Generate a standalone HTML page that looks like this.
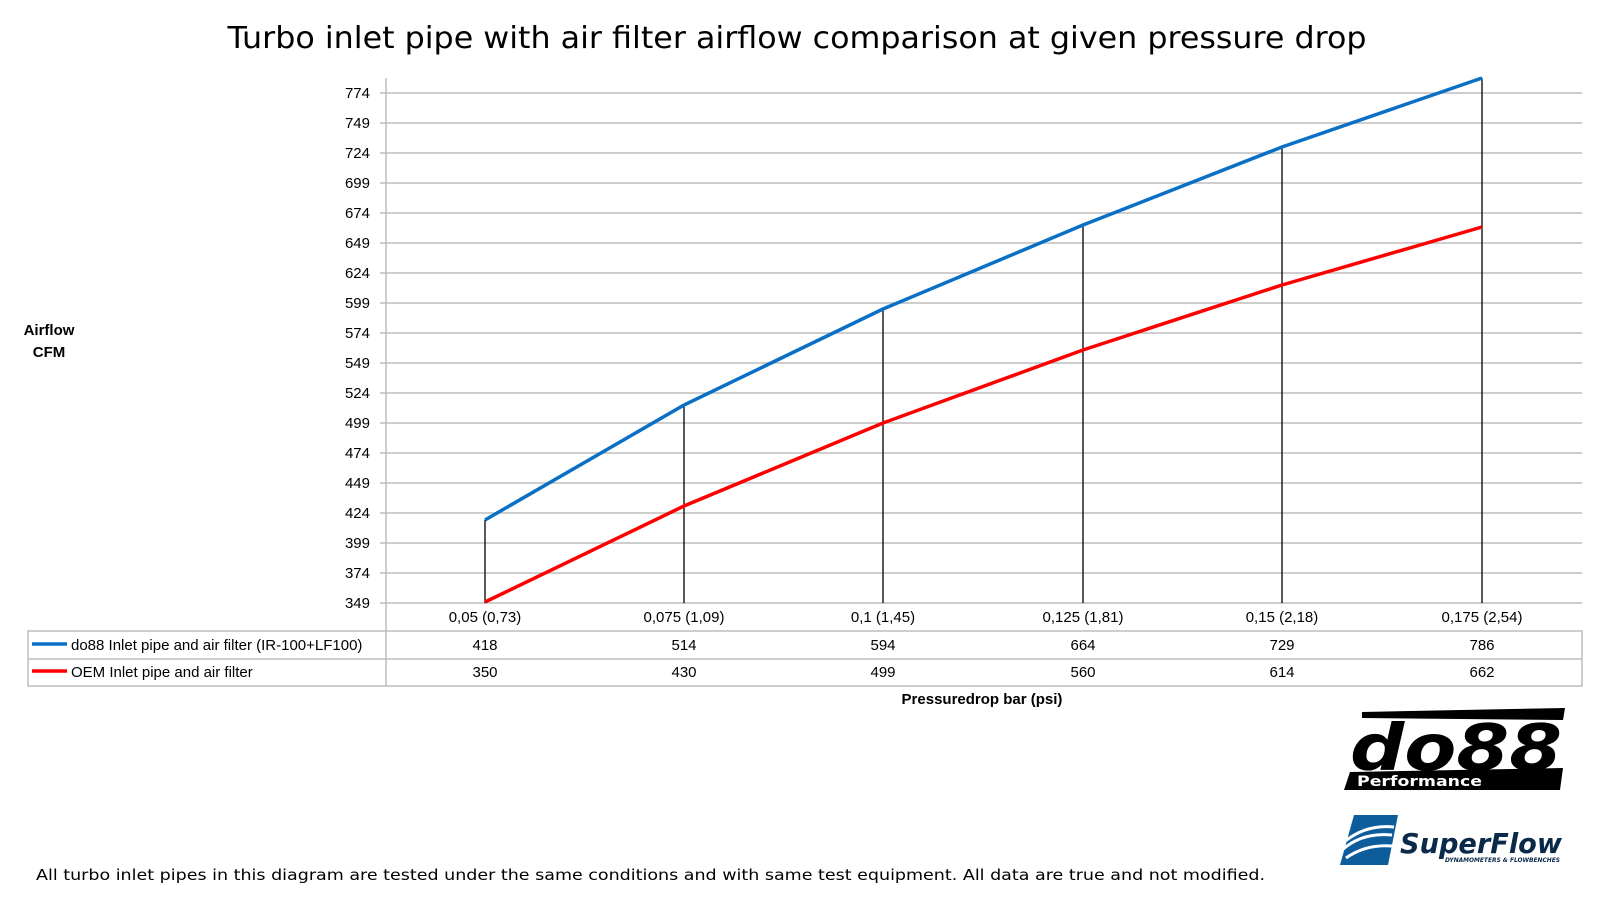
<!DOCTYPE html>
<html><head><meta charset="utf-8"><style>
html,body{margin:0;padding:0;background:#fff;}
svg{display:block;}
</style></head><body>
<svg width="1600" height="905" xmlns="http://www.w3.org/2000/svg">
<rect width="1600" height="905" fill="#fff"/>
<text x="797" y="48" text-anchor="middle" font-family="DejaVu Sans, sans-serif" font-size="30" textLength="1139" lengthAdjust="spacingAndGlyphs" fill="#000">Turbo inlet pipe with air filter airflow comparison at given pressure drop</text>
<g stroke="#bdbdbd" stroke-width="1.5">
<line x1="380" y1="93" x2="1582" y2="93"/><line x1="380" y1="123" x2="1582" y2="123"/><line x1="380" y1="153" x2="1582" y2="153"/><line x1="380" y1="183" x2="1582" y2="183"/><line x1="380" y1="213" x2="1582" y2="213"/><line x1="380" y1="243" x2="1582" y2="243"/><line x1="380" y1="273" x2="1582" y2="273"/><line x1="380" y1="303" x2="1582" y2="303"/><line x1="380" y1="333" x2="1582" y2="333"/><line x1="380" y1="363" x2="1582" y2="363"/><line x1="380" y1="393" x2="1582" y2="393"/><line x1="380" y1="423" x2="1582" y2="423"/><line x1="380" y1="453" x2="1582" y2="453"/><line x1="380" y1="483" x2="1582" y2="483"/><line x1="380" y1="513" x2="1582" y2="513"/><line x1="380" y1="543" x2="1582" y2="543"/><line x1="380" y1="573" x2="1582" y2="573"/><line x1="380" y1="603" x2="1582" y2="603"/>
<line x1="386" y1="78" x2="386" y2="686"/>
<rect x="28" y="631" width="1554" height="55" fill="none"/>
<line x1="28" y1="659" x2="1582" y2="659"/>
</g>
<g font-family="Liberation Sans, sans-serif" font-size="15" fill="#000" text-anchor="end">
<text x="370" y="98">774</text><text x="370" y="128">749</text><text x="370" y="158">724</text><text x="370" y="188">699</text><text x="370" y="218">674</text><text x="370" y="248">649</text><text x="370" y="278">624</text><text x="370" y="308">599</text><text x="370" y="338">574</text><text x="370" y="368">549</text><text x="370" y="398">524</text><text x="370" y="428">499</text><text x="370" y="458">474</text><text x="370" y="488">449</text><text x="370" y="518">424</text><text x="370" y="548">399</text><text x="370" y="578">374</text><text x="370" y="608">349</text>
</g>
<g stroke="#000" stroke-width="1.3">
<line x1="485" y1="520" x2="485" y2="603"/><line x1="684" y1="405" x2="684" y2="603"/><line x1="883" y1="309" x2="883" y2="603"/><line x1="1083" y1="225" x2="1083" y2="603"/><line x1="1282" y1="147" x2="1282" y2="603"/><line x1="1482" y1="78" x2="1482" y2="603"/>
</g>
<polyline points="485,520 684,405 883,309 1083,225 1282,147 1482,78" fill="none" stroke="#0a70c6" stroke-width="3.5"/>
<polyline points="485,602 684,506 883,423 1083,350 1282,285 1482,227" fill="none" stroke="#ff0000" stroke-width="3.5"/>
<g font-family="Liberation Sans, sans-serif" font-size="15" fill="#000" text-anchor="middle">
<text x="485" y="622">0,05 (0,73)</text><text x="684" y="622">0,075 (1,09)</text><text x="883" y="622">0,1 (1,45)</text><text x="1083" y="622">0,125 (1,81)</text><text x="1282" y="622">0,15 (2,18)</text><text x="1482" y="622">0,175 (2,54)</text>
<text x="485" y="650">418</text><text x="684" y="650">514</text><text x="883" y="650">594</text><text x="1083" y="650">664</text><text x="1282" y="650">729</text><text x="1482" y="650">786</text>
<text x="485" y="677">350</text><text x="684" y="677">430</text><text x="883" y="677">499</text><text x="1083" y="677">560</text><text x="1282" y="677">614</text><text x="1482" y="677">662</text>
<text x="49" y="335" font-weight="bold">Airflow</text><text x="49" y="357" font-weight="bold">CFM</text>
<text x="982" y="704" font-weight="bold">Pressuredrop bar (psi)</text>
</g>
<line x1="32" y1="644" x2="67" y2="644" stroke="#0a70c6" stroke-width="3.5"/>
<line x1="32" y1="671" x2="67" y2="671" stroke="#ff0000" stroke-width="3.5"/>
<g font-family="Liberation Sans, sans-serif" font-size="15" fill="#000">
<text x="71" y="650">do88 Inlet pipe and air filter (IR-100+LF100)</text>
<text x="71" y="677">OEM Inlet pipe and air filter</text>
</g>
<text x="36" y="880" font-family="DejaVu Sans, sans-serif" font-size="15" textLength="1229" lengthAdjust="spacingAndGlyphs" fill="#000">All turbo inlet pipes in this diagram are tested under the same conditions and with same test equipment. All data are true and not modified.</text>
<!-- do88 logo -->
<polygon points="1362,712 1565,708 1563,720 1362,718" fill="#000"/>
<text x="1350" y="770" font-family="DejaVu Sans, sans-serif" font-weight="bold" font-style="italic" font-size="64" fill="#000" textLength="212" lengthAdjust="spacingAndGlyphs">do88</text>
<polygon points="1350,772 1563,768 1560,790 1344,790" fill="#000"/>
<text x="1357" y="786" font-family="DejaVu Sans, sans-serif" font-weight="bold" font-size="14" fill="#fff" textLength="125" lengthAdjust="spacingAndGlyphs">Performance</text>
<!-- SuperFlow logo -->
<polygon points="1354,815 1398,815 1388,865 1340,865" fill="#0d5c9c"/>
<path d="M1342,850 q20,-18 50,-15 M1344,842 q22,-18 50,-15 M1346,858 q20,-14 46,-12" stroke="#fff" stroke-width="3" fill="none"/>
<text x="1400" y="853" font-family="DejaVu Sans, sans-serif" font-weight="bold" font-style="italic" font-size="28" fill="#0b2a4a" textLength="162" lengthAdjust="spacingAndGlyphs">SuperFlow</text>
<text x="1445" y="862" font-family="DejaVu Sans, sans-serif" font-weight="bold" font-style="italic" font-size="6" fill="#0b2a4a" textLength="115" lengthAdjust="spacingAndGlyphs">DYNAMOMETERS &amp; FLOWBENCHES</text>
</svg>
</body></html>
